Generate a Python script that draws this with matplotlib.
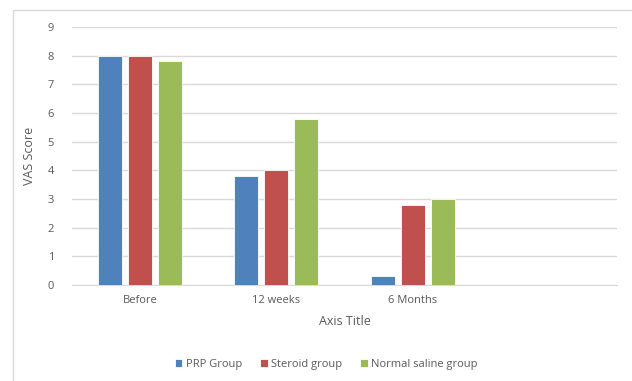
import numpy as np
import matplotlib.pyplot as plt
from matplotlib.patches import Rectangle

# Données
categories = ['Before', '12 weeks', '6 Months', '']
series_names = ['PRP Group', 'Steroid group', 'Normal saline group']
prp = [8.0, 3.8, 0.3, np.nan]
steroid = [8.0, 4.0, 2.8, np.nan]
saline = [7.8, 5.8, 3.0, np.nan]
colors = ['#4F81BD', '#C0504D', '#9BBB59']
yticks = list(range(0, 10))

plt.rcParams['font.family'] = ['Open Sans', 'DejaVu Sans']
txt = '#595959'
grid = '#D9D9D9'

fig = plt.figure(figsize=(6.32, 3.81), dpi=100)
W, H = 632, 381
ax = fig.add_axes([72 / W, 1 - 285 / H, 545 / W, (285 - 27) / H])

x = np.arange(len(categories))
bw = 0.176
step = 0.22
for i, (vals, name) in enumerate(zip([prp, steroid, saline], series_names)):
    ax.bar(x + (i - 1) * step, vals, width=bw, color=colors[i], label=name,
           edgecolor='white', linewidth=0.6, zorder=3)

ax.set_xlim(-0.5, len(categories) - 0.5)
ax.set_ylim(0, 9)
ax.set_yticks(yticks)
ax.set_xticks(x[:3])
ax.set_xticklabels(categories[:3])
ax.grid(axis='y', color=grid, linewidth=1, zorder=0)
for s in ['top', 'right', 'left']:
    ax.spines[s].set_visible(False)
ax.spines['bottom'].set_color(grid)
ax.tick_params(length=0, colors=txt, labelsize=8)
ax.tick_params(axis='y', pad=13)
ax.tick_params(axis='x', pad=7)
ax.set_xlabel('Axis Title', color=txt, fontsize=9, labelpad=7)
ax.set_ylabel('VAS Score', color=txt, fontsize=9, labelpad=8)

leg = fig.legend(loc='center', bbox_to_anchor=(326 / W, 1 - 364 / H), ncol=3,
                 frameon=False, fontsize=8, handlelength=0.7, handleheight=0.7,
                 handletextpad=0.3, columnspacing=1.6)
for t in leg.get_texts():
    t.set_color(txt)

# cadre du graphique (bords gauche et haut visibles)
fig.patches.append(Rectangle((13 / W, -0.1), 1.2, 1 - 10 / H + 0.1,
                             transform=fig.transFigure, fill=False,
                             edgecolor='#D9D9D9', linewidth=1))

fig.savefig('out.png', dpi=100)
